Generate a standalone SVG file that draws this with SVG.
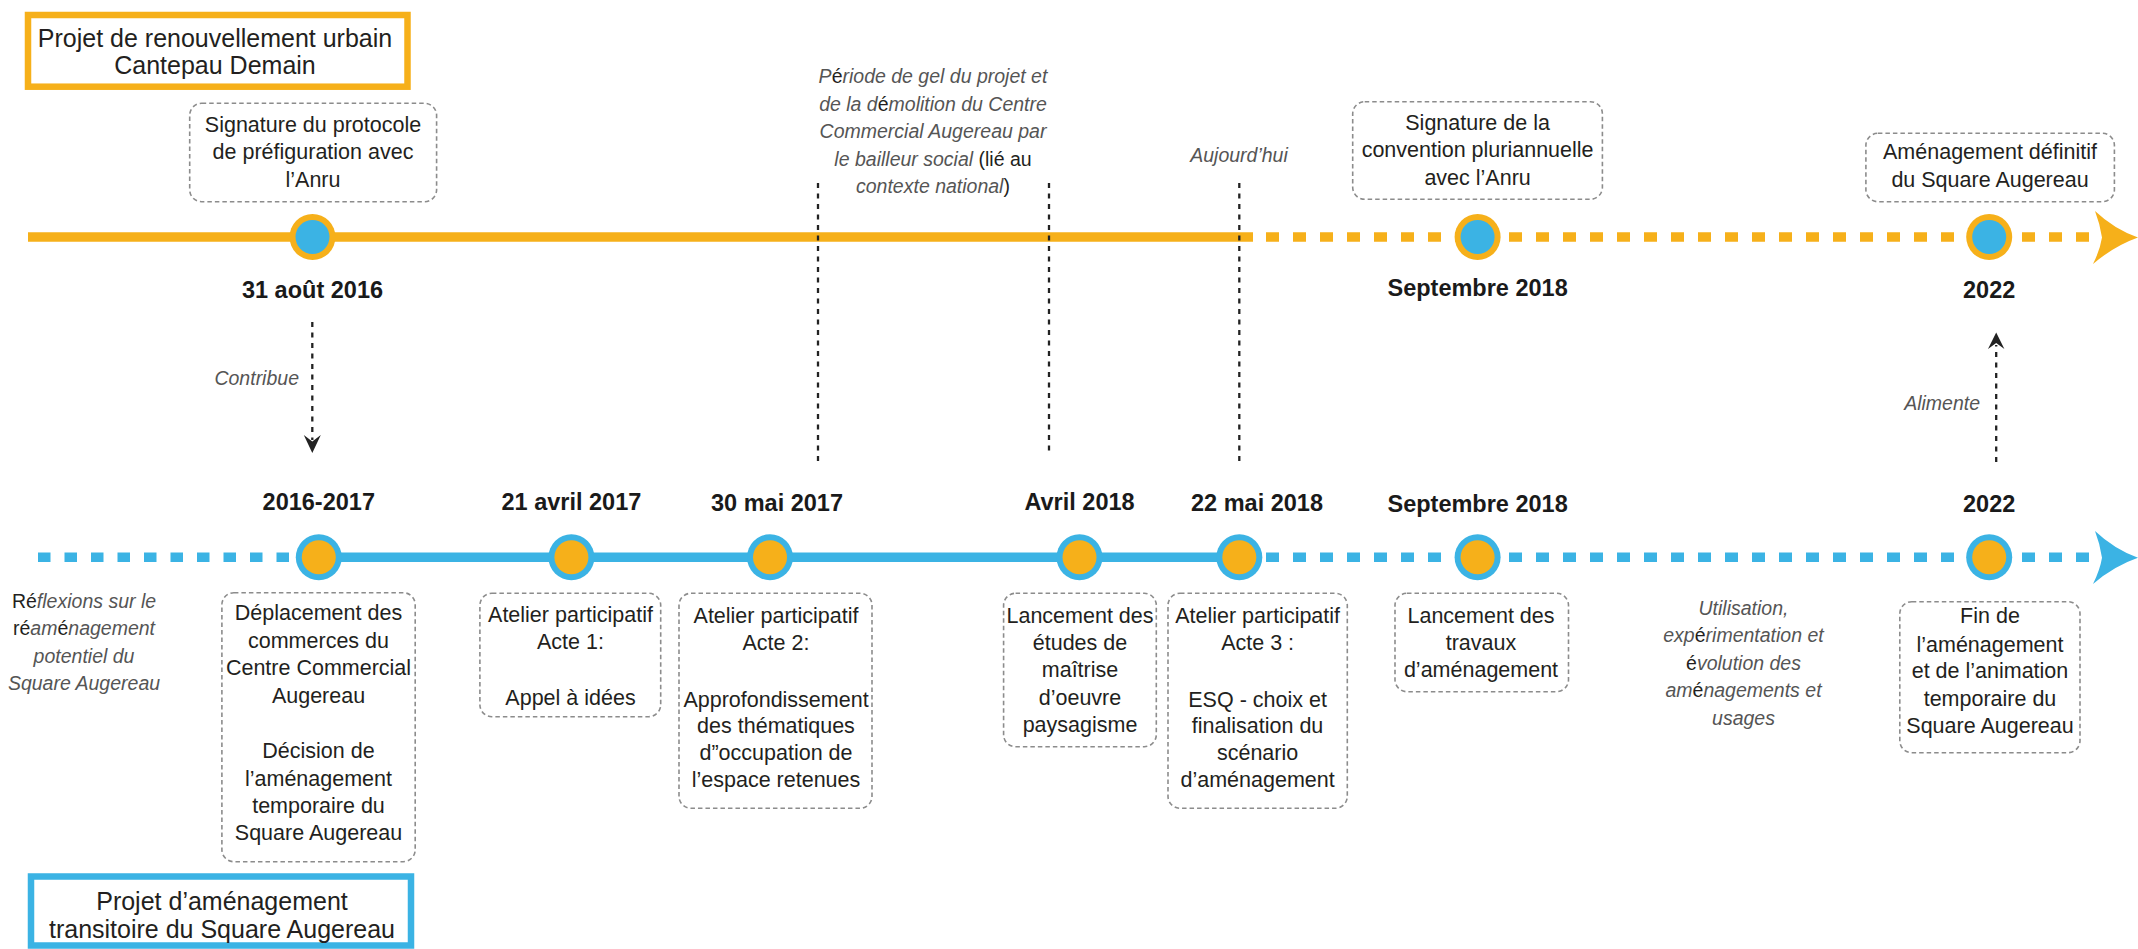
<svg xmlns="http://www.w3.org/2000/svg" width="2138" height="949" viewBox="0 0 2138 949">
<style>
.bg{fill:#ffffff}
.box{fill:#ffffff;stroke:#8c8c8c;stroke-width:1.6;stroke-dasharray:4.5 3}
.t{font-family:"Liberation Sans",Arial,sans-serif;font-size:21.5px;fill:#231f20;text-anchor:middle}
.ttl{font-family:"Liberation Sans",Arial,sans-serif;font-size:25px;fill:#231f20;text-anchor:middle}
.it{font-family:"Liberation Sans",Arial,sans-serif;font-size:19.5px;font-style:italic;fill:#555555;text-anchor:middle}
.end{text-anchor:end}
.up{font-style:normal;fill:#231f20}
.date{font-family:"Liberation Sans",Arial,sans-serif;font-size:23.5px;font-weight:bold;fill:#1a1a1a;text-anchor:middle}
.oline{stroke:#F6B01A;stroke-width:9.5;fill:none}
.bline{stroke:#3BB3E4;stroke-width:9.5;fill:none}
.dash{stroke-dasharray:13 14}
.vd{stroke:#222222;stroke-width:2.3;stroke-dasharray:5 5.5;fill:none}
.ofill{fill:#F6B01A}
.bfill{fill:#3BB3E4}
.aw{fill:#222222}
</style>
<rect class="bg" x="0" y="0" width="2138" height="949"/>

<!-- Timelines -->
<g id="timeline-orange">
  <line class="oline" x1="28" y1="237" x2="1253" y2="237"/>
  <line class="oline dash" x1="1266" y1="237" x2="2096" y2="237"/>
  <path class="ofill" d="M2095,211 Q2114,229 2138,237.5 Q2114,246 2093,264 Q2100,250 2102,237.5 Q2100,224 2095,211 Z"/>
</g>
<g id="timeline-blue">
  <line class="bline" x1="38" y1="557.3" x2="296" y2="557.3" style="stroke-dasharray:12.5 14"/>
  <line class="bline" x1="318" y1="557.3" x2="1240" y2="557.3"/>
  <line class="bline dash" x1="1266" y1="557.3" x2="2096" y2="557.3"/>
  <path class="bfill" d="M2095,531 Q2114,549 2138,557.8 Q2114,566 2093,584 Q2100,570 2102,557.8 Q2100,544 2095,531 Z"/>
</g>

<!-- Connectors -->
<g id="connectors">
  <line class="vd" x1="818" y1="183" x2="818" y2="462"/>
  <line class="vd" x1="1049" y1="183" x2="1049" y2="452"/>
  <line class="vd" x1="1239.3" y1="183" x2="1239.3" y2="462"/>
  <line class="vd" x1="312.3" y1="322" x2="312.3" y2="440"/>
  <path class="aw" d="M312.3,453 L303.8,435 L312.3,441.5 L320.8,435 Z"/>
  <line class="vd" x1="1996.2" y1="462" x2="1996.2" y2="345"/>
  <path class="aw" d="M1996.2,332.5 L1988,349 L1996.2,343 L2004.4,349 Z"/>
  <text class="it end" x="299" y="385">Contribue</text>
  <text class="it end" x="1980" y="410">Alimente</text>
</g>

<!-- Title boxes -->
<g id="title-renouvellement">
  <rect x="28" y="15" width="379.5" height="71.7" fill="#ffffff" stroke="#F6B01A" stroke-width="6.5"/>
  <text class="ttl" x="215" y="46.7">Projet de renouvellement urbain</text>
  <text class="ttl" x="215" y="74">Cantepau Demain</text>
</g>
<g id="title-transitoire">
  <rect x="31" y="876.5" width="380" height="69" fill="#ffffff" stroke="#3BB3E4" stroke-width="6.5"/>
  <text class="ttl" x="222" y="910">Projet d’aménagement</text>
  <text class="ttl" x="222" y="937.7">transitoire du Square Augereau</text>
</g>

<!-- Top timeline events -->
<g id="ev-2016-08-31">
  <rect class="box" x="189.7" y="103.3" width="246.9" height="98.4" rx="12"/>
  <text class="t" x="313" y="131.7">Signature du protocole</text>
  <text class="t" x="313" y="159.3">de préfiguration avec</text>
  <text class="t" x="313" y="186.7">l’Anru</text>
  <circle class="ofill" cx="312.5" cy="237" r="23"/>
  <circle class="bfill" cx="312.5" cy="237" r="17"/>
  <text class="date" x="312.5" y="297.5">31 août 2016</text>
</g>
<g id="periode-gel">
  <text class="it" x="933" y="83.3">P<tspan class="up">é</tspan>riode de gel du projet et</text>
  <text class="it" x="933" y="111">de la d<tspan class="up">é</tspan>molition du Centre</text>
  <text class="it" x="933" y="138.3">Commercial Augereau par</text>
  <text class="it" x="933" y="165.7">le bailleur social <tspan class="up">(lié au</tspan></text>
  <text class="it" x="933" y="193.3">contexte national<tspan class="up">)</tspan></text>
</g>
<g id="aujourdhui">
  <text class="it" x="1239" y="161.7">Aujourd’hui</text>
</g>
<g id="ev-2018-09-top">
  <rect class="box" x="1352.7" y="101.7" width="249.7" height="97.6" rx="12"/>
  <text class="t" x="1477.6" y="130">Signature de la</text>
  <text class="t" x="1477.6" y="157.3">convention pluriannuelle</text>
  <text class="t" x="1477.6" y="185">avec l’Anru</text>
  <circle class="ofill" cx="1477.6" cy="237" r="23"/>
  <circle class="bfill" cx="1477.6" cy="237" r="17"/>
  <text class="date" x="1477.6" y="296">Septembre 2018</text>
</g>
<g id="ev-2022-top">
  <rect class="box" x="1865.9" y="133.3" width="248.5" height="68.4" rx="12"/>
  <text class="t" x="1990" y="159.3">Aménagement définitif</text>
  <text class="t" x="1990" y="186.7">du Square Augereau</text>
  <circle class="ofill" cx="1989.2" cy="237" r="23"/>
  <circle class="bfill" cx="1989.2" cy="237" r="17"/>
  <text class="date" x="1989.2" y="297.5">2022</text>
</g>

<!-- Bottom timeline events -->
<g id="reflexions">
  <text class="it" x="84" y="608.3"><tspan class="up">Ré</tspan>flexions sur le</text>
  <text class="it" x="84" y="635"><tspan class="up">ré</tspan>am<tspan class="up">é</tspan>nagement</text>
  <text class="it" x="84" y="663.3">potentiel  du</text>
  <text class="it" x="84" y="690">Square Augereau</text>
</g>
<g id="ev-2016-2017">
  <text class="date" x="318.8" y="510">2016-2017</text>
  <circle class="bfill" cx="318.8" cy="557.3" r="23"/>
  <circle class="ofill" cx="318.8" cy="557.3" r="17"/>
  <rect class="box" x="221.9" y="592.7" width="193.3" height="269" rx="12"/>
  <text class="t" x="318.5" y="620">Déplacement des</text>
  <text class="t" x="318.5" y="647.5">commerces du</text>
  <text class="t" x="318.5" y="675">Centre Commercial</text>
  <text class="t" x="318.5" y="702.7">Augereau</text>
  <text class="t" x="318.5" y="758.3">Décision de</text>
  <text class="t" x="318.5" y="785.7">l’aménagement</text>
  <text class="t" x="318.5" y="813.3">temporaire du</text>
  <text class="t" x="318.5" y="840">Square Augereau</text>
</g>
<g id="ev-2017-04-21">
  <text class="date" x="571.4" y="510">21 avril 2017</text>
  <circle class="bfill" cx="571.4" cy="557.3" r="23"/>
  <circle class="ofill" cx="571.4" cy="557.3" r="17"/>
  <rect class="box" x="479.9" y="593.3" width="180.8" height="123.4" rx="12"/>
  <text class="t" x="570.5" y="621.7">Atelier participatif</text>
  <text class="t" x="570.5" y="649">Acte 1:</text>
  <text class="t" x="570.5" y="705">Appel à idées</text>
</g>
<g id="ev-2017-05-30">
  <text class="date" x="777" y="511">30 mai 2017</text>
  <circle class="bfill" cx="770" cy="557.3" r="23"/>
  <circle class="ofill" cx="770" cy="557.3" r="17"/>
  <rect class="box" x="679" y="593.3" width="193" height="215" rx="12"/>
  <text class="t" x="776" y="623.3">Atelier participatif</text>
  <text class="t" x="776" y="650">Acte 2:</text>
  <text class="t" x="776" y="706.7">Approfondissement</text>
  <text class="t" x="776" y="733.3">des thématiques</text>
  <text class="t" x="776" y="760">d”occupation de</text>
  <text class="t" x="776" y="786.7">l’espace retenues</text>
</g>
<g id="ev-2018-04">
  <text class="date" x="1079.5" y="510">Avril 2018</text>
  <circle class="bfill" cx="1079.5" cy="557.3" r="23"/>
  <circle class="ofill" cx="1079.5" cy="557.3" r="17"/>
  <rect class="box" x="1003.6" y="593.3" width="152.7" height="153.4" rx="12"/>
  <text class="t" x="1080" y="623.3">Lancement des</text>
  <text class="t" x="1080" y="650">études de</text>
  <text class="t" x="1080" y="677.3">maîtrise</text>
  <text class="t" x="1080" y="705">d’oeuvre</text>
  <text class="t" x="1080" y="731.7">paysagisme</text>
</g>
<g id="ev-2018-05-22">
  <text class="date" x="1257" y="511">22 mai 2018</text>
  <circle class="bfill" cx="1239.3" cy="557.3" r="23"/>
  <circle class="ofill" cx="1239.3" cy="557.3" r="17"/>
  <rect class="box" x="1168" y="593.3" width="179.3" height="215" rx="12"/>
  <text class="t" x="1257.6" y="623.3">Atelier participatif</text>
  <text class="t" x="1257.6" y="650">Acte 3 :</text>
  <text class="t" x="1257.6" y="706.7">ESQ - choix et</text>
  <text class="t" x="1257.6" y="733.3">finalisation du</text>
  <text class="t" x="1257.6" y="760">scénario</text>
  <text class="t" x="1257.6" y="786.7">d’aménagement</text>
</g>
<g id="ev-2018-09-bottom">
  <text class="date" x="1477.6" y="511.5">Septembre 2018</text>
  <circle class="bfill" cx="1477.6" cy="557.3" r="23"/>
  <circle class="ofill" cx="1477.6" cy="557.3" r="17"/>
  <rect class="box" x="1395" y="593.3" width="173.5" height="98.4" rx="12"/>
  <text class="t" x="1481" y="623.3">Lancement des</text>
  <text class="t" x="1481" y="650">travaux</text>
  <text class="t" x="1481" y="677.3">d’aménagement</text>
</g>
<g id="utilisation">
  <text class="it" x="1743.5" y="615">Utilisation,</text>
  <text class="it" x="1743.5" y="641.7">exp<tspan class="up">é</tspan>rimentation et</text>
  <text class="it" x="1743.5" y="670"><tspan class="up">é</tspan>volution des</text>
  <text class="it" x="1743.5" y="696.7">am<tspan class="up">é</tspan>nagements et</text>
  <text class="it" x="1743.5" y="725">usages</text>
</g>
<g id="ev-2022-bottom">
  <text class="date" x="1989.2" y="511.5">2022</text>
  <circle class="bfill" cx="1989.2" cy="557.3" r="23"/>
  <circle class="ofill" cx="1989.2" cy="557.3" r="17"/>
  <rect class="box" x="1899.8" y="601.7" width="180.2" height="151" rx="12"/>
  <text class="t" x="1990" y="623.3">Fin de</text>
  <text class="t" x="1990" y="651.7">l’aménagement</text>
  <text class="t" x="1990" y="678.3">et de l’animation</text>
  <text class="t" x="1990" y="706">temporaire du</text>
  <text class="t" x="1990" y="732.7">Square Augereau</text>
</g>
</svg>
